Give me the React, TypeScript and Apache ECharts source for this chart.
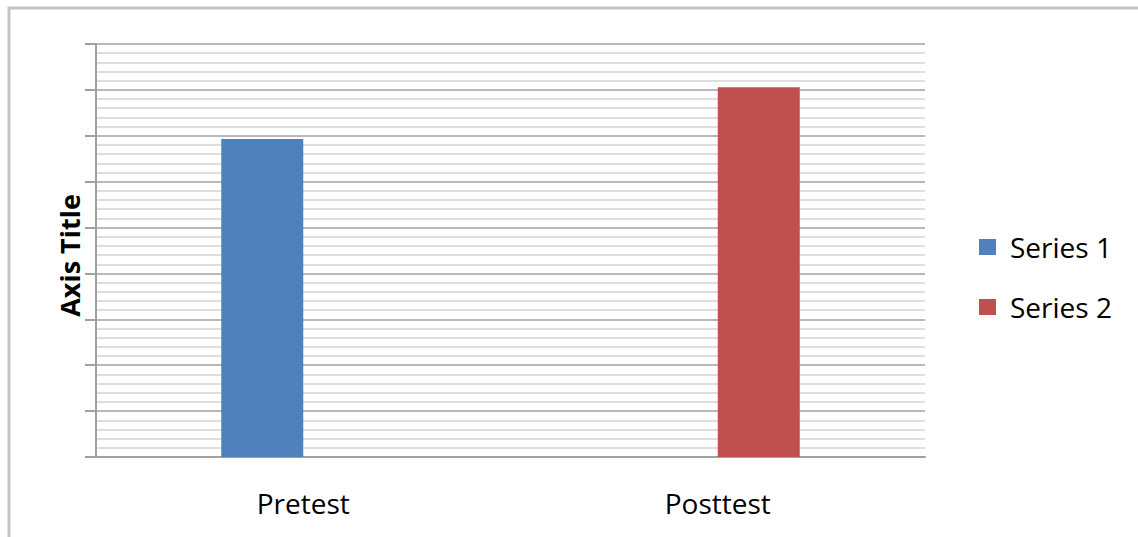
import React, { useEffect, useRef } from "react";
import * as echarts from "echarts";

const categories = ["Pretest", "Posttest"];
const series1Values: (number | null)[] = [6.93, null];
const series2Values: (number | null)[] = [null, 8.06];
const seriesNames = ["Series 1", "Series 2"];
const axisTitle = "Axis Title";

const FONT = "'Open Sans', Lato, sans-serif";

export default function App() {
  const ref = useRef<HTMLDivElement>(null);
  useEffect(() => {
    if (!ref.current) return;
    const chart = echarts.init(ref.current, undefined, { renderer: "svg" });
    chart.setOption({
      animation: false,
      backgroundColor: "#ffffff",
      graphic: [
        {
          type: "rect",
          shape: { x: 9, y: 8, width: 1150, height: 560 },
          style: { fill: "none", stroke: "#c4c4c4", lineWidth: 3 },
          silent: true,
          z: 100,
        },
      ],
      legend: {
        orient: "vertical",
        left: 979,
        top: 233,
        padding: 0,
        itemWidth: 17,
        itemHeight: 16,
        itemGap: 32,
        icon: "rect",
        data: seriesNames,
        textStyle: {
          fontFamily: FONT,
          fontSize: 28,
          lineHeight: 28,
          color: "#000000",
          padding: [0, 0, 0, 9],
        },
      },
      grid: { left: 96, right: 213, top: 44, bottom: 80, containLabel: false },
      xAxis: {
        type: "category",
        data: categories,
        axisLine: { show: true, lineStyle: { color: "#a0a0a0", width: 2 } },
        axisTick: { show: false },
        axisLabel: {
          fontFamily: FONT,
          fontSize: 28,
          color: "#000000",
          margin: 32,
        },
      },
      yAxis: {
        type: "value",
        min: 0,
        max: 9,
        interval: 1,
        name: axisTitle,
        nameLocation: "middle",
        nameGap: 13,
        nameRotate: 90,
        nameTextStyle: {
          fontFamily: FONT,
          fontSize: 27,
          fontWeight: "bold",
          color: "#000000",
          padding: [0, 10, 0, 0],
        },
        axisLine: { show: true, lineStyle: { color: "#a0a0a0", width: 2 } },
        axisTick: { show: true, inside: false, length: 11, lineStyle: { color: "#a0a0a0", width: 2 } },
        axisLabel: { show: false },
        splitLine: { show: true, lineStyle: { color: "#b8b8b8", width: 2 } },
        minorTick: { show: false, splitNumber: 5 },
        minorSplitLine: { show: true, lineStyle: { color: "#dedede", width: 2 } },
      },
      series: [
        {
          name: seriesNames[0],
          type: "bar",
          data: series1Values,
          barWidth: 82,
          barGap: "0%",
          itemStyle: { color: "#4f81bd" },
        },
        {
          name: seriesNames[1],
          type: "bar",
          data: series2Values,
          barWidth: 82,
          barGap: "0%",
          itemStyle: { color: "#c0504d" },
        },
      ],
    });
    return () => chart.dispose();
  }, []);
  return (
    <div style={{ position: "absolute", left: 0, top: 0, width: 1138, height: 537 }}>
      <div ref={ref} style={{ width: 1138, height: 537 }} />
    </div>
  );
}
